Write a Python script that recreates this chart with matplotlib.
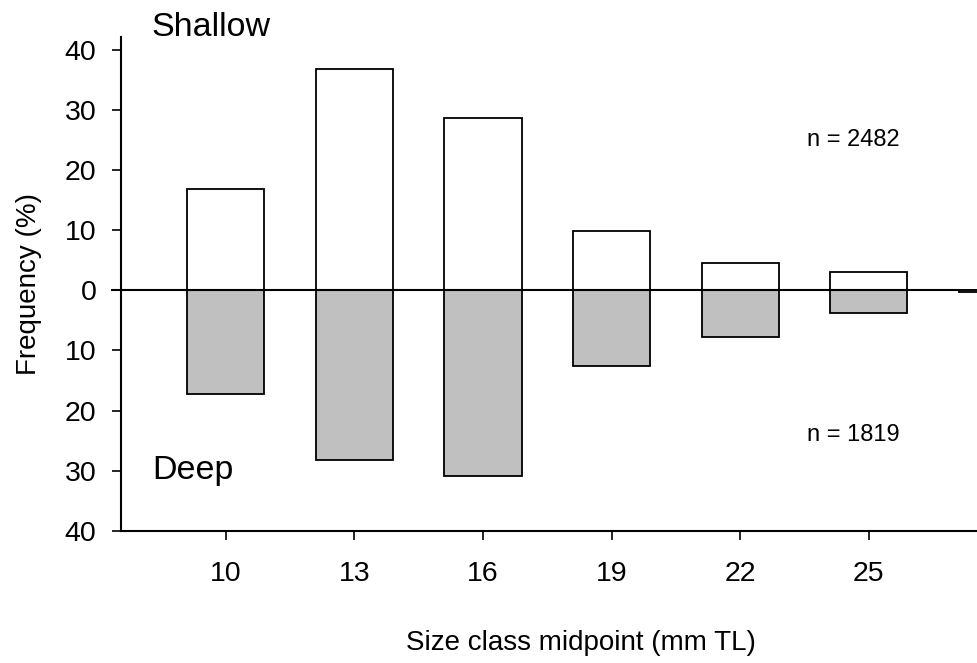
import matplotlib
matplotlib.use("Agg")
import matplotlib.pyplot as plt

plt.rcParams['font.family'] = ['Liberation Sans', 'DejaVu Sans']

# size classes (mm TL) and frequencies (%)
size_mid = [10, 13, 16, 19, 22, 25, 28]
shallow = [16.9, 36.8, 28.6, 9.9, 4.6, 3.1, 0.1]
deep = [17.2, 28.3, 30.9, 12.6, 7.7, 3.8, 0.2]
tick_pos = [10, 13, 16, 19, 22, 25]
yticks = [-40, -30, -20, -10, 0, 10, 20, 30, 40]
bar_w = 1.8

fig = plt.figure(figsize=(9.77, 6.63), dpi=100)
# axes run off the right edge of the figure, like the cropped original
ax = fig.add_axes([0.1235, 0.1995, 0.9413, 0.7442])

ax.bar(size_mid, shallow, width=bar_w, color='white', edgecolor='black', linewidth=1.3, zorder=2)
ax.bar(size_mid, [-d for d in deep], width=bar_w, color='#c0c0c0', edgecolor='black', linewidth=1.3, zorder=2)

# zero line, ends where the last bar starts
ax.plot([7.34, size_mid[-1] - bar_w / 2], [0, 0], color='black', linewidth=1.5, clip_on=False, zorder=3)

ax.set_xlim(7.55, 29.0)
ax.set_ylim(-40, 42.1)
ax.set_xticks(tick_pos)
ax.set_xticklabels([str(t) for t in tick_pos])
ax.set_yticks(yticks)
ax.set_yticklabels([str(abs(t)) for t in yticks])

for s in ['top', 'right']:
    ax.spines[s].set_visible(False)
for s in ['left', 'bottom']:
    ax.spines[s].set_linewidth(1.5)

ax.tick_params(axis='both', direction='out', length=6.5, width=1.2, labelsize=20.5)
ax.tick_params(axis='x', pad=15)
ax.tick_params(axis='y', pad=11)

ax.set_xlabel('Size class midpoint (mm TL)', fontsize=20, labelpad=31)
ax.set_ylabel('Frequency (%)', fontsize=20, labelpad=16)

ax.text(8.28, 43.8, 'Shallow', fontsize=24.5, ha='left', va='center', clip_on=False)
ax.text(8.28, -30, 'Deep', fontsize=24.5, ha='left', va='center')
ax.text(24.63, 25, 'n = 2482', fontsize=17, ha='center', va='center')
ax.text(24.63, -24, 'n = 1819', fontsize=17, ha='center', va='center')

fig.savefig('out.png', dpi=100)
